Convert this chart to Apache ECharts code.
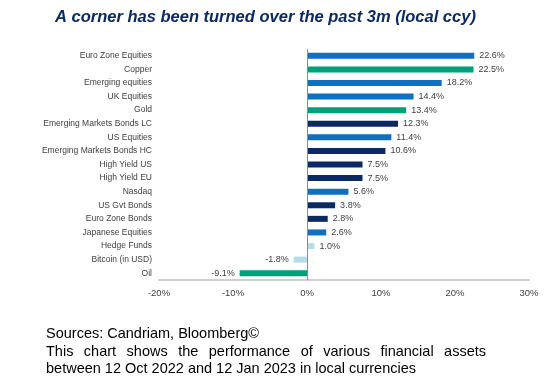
<!DOCTYPE html>
<html><head><meta charset="utf-8">
<script src="https://cdn.jsdelivr.net/npm/echarts@6/dist/echarts.min.js"></script>
<style>html,body{margin:0;padding:0;background:#fff}#c{width:555px;height:391px}</style>
</head><body><div id="c"></div>
<script>
var categories = ["Euro Zone Equities","Copper","Emerging equities","UK Equities","Gold","Emerging Markets Bonds LC","US Equities","Emerging Markets Bonds HC","High Yield US","High Yield EU","Nasdaq","US Gvt Bonds","Euro Zone Bonds","Japanese Equities","Hedge Funds","Bitcoin (in USD)","Oil"];
var values = [22.6,22.5,18.2,14.4,13.4,12.3,11.4,10.6,7.5,7.5,5.6,3.8,2.8,2.6,1.0,-1.8,-9.1];
var groups = ["eq","cmd","eq","eq","cmd","bond","eq","bond","bond","bond","eq","bond","bond","eq","alt","alt","cmd"];
var xTicks = [-20,-10,0,10,20,30];
var palette = {eq:"#0f6fc0", cmd:"#00a07a", bond:"#0b2a64", alt:"#b7dbe8"};

var chart = echarts.init(document.getElementById('c'));
var font = 'Arial, "Liberation Sans", sans-serif';
var footFont = '14.5px ' + font;

var footLine2 = "This chart shows the performance of various financial assets";
var words = footLine2.split(" ");
var ctx = document.createElement('canvas').getContext('2d');
ctx.font = footFont;
var x0 = 46, x1 = 486;
var wsum = 0, ws = words.map(function(w){var m=ctx.measureText(w).width; wsum+=m; return m;});
var gap = (x1 - x0 - wsum) / (words.length - 1);
var wordEls = []; var cx = x0;
words.forEach(function(w,i){
  wordEls.push({type:'text', left:cx, top:344, style:{text:w, font:footFont, fill:'#000'}});
  cx += ws[i] + gap;
});

chart.setOption({
  animation:false,
  title:{text:"A corner has been turned over the past 3m (local ccy)", left:50, top:4,
    textStyle:{color:"#0b2a64", fontSize:16.5, fontWeight:"bold", fontStyle:"italic", fontFamily:font}},
  grid:{left:159, right:26, top:49, bottom:111, containLabel:false},
  xAxis:{type:'value', min:xTicks[0], max:xTicks[xTicks.length-1], interval:10,
    axisLine:{show:true, lineStyle:{color:'#bfbfbf', width:1.5}}, axisTick:{show:false},
    splitLine:{show:false},
    axisLabel:{formatter:'{value}%', color:'#404040', fontSize:9.5, fontFamily:font, margin:8}},
  yAxis:{type:'category', data:categories, inverse:true,
    axisLine:{show:false}, axisTick:{show:false},
    axisLabel:{color:'#404040', fontSize:8.5, fontFamily:font, margin:7}},
  series:[{type:'bar', barWidth:6,
    data:values.map(function(v,i){return {value:v, itemStyle:{color:palette[groups[i]]},
      label:{position: v < 0 ? 'left' : 'right'}};}),
    label:{show:true, distance:5, formatter:function(p){return p.value.toFixed(1)+'%';},
      color:'#404040', fontSize:9, fontFamily:font},
    markLine:{silent:true, symbol:'none', label:{show:false},
      lineStyle:{color:'#8c8c8c', width:1, type:'solid'}, data:[{xAxis:0}]}
  }],
  graphic:[
    {type:'text', left:46, top:326, style:{text:"Sources: Candriam, Bloomberg\u00a9", font:footFont, fill:'#000'}},
    {type:'text', left:46, top:361, style:{text:"between 12 Oct 2022 and 12 Jan 2023 in local currencies", font:footFont, fill:'#000'}}
  ].concat(wordEls)
});
</script></body></html>
